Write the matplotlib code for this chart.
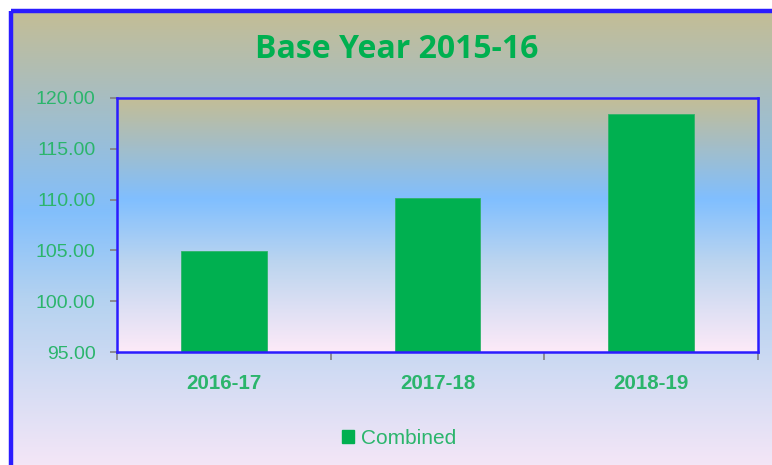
import matplotlib
matplotlib.use("Agg")
import matplotlib.pyplot as plt
import numpy as np
from matplotlib.colors import LinearSegmentedColormap
from matplotlib.patches import Rectangle, Patch

categories = ["2016-17", "2017-18", "2018-19"]
values = [104.9, 110.2, 118.4]
series_name = "Combined"
title = "Base Year 2015-16"
yticks = [95, 100, 105, 110, 115, 120]

GREEN = "#00b050"
TXT = "#2bb56c"
BLUE = "#2b1cff"

fig = plt.figure(figsize=(7.72, 4.65), dpi=100)
fig.patch.set_facecolor("white")

W, H = 772, 465
# outer background with gradient
bg = fig.add_axes([0, 0, 1, 1], zorder=0)
bg.set_xlim(0, W); bg.set_ylim(H, 0); bg.axis("off")
cmap = LinearSegmentedColormap.from_list("g", [(0, "#c4bd95"), (0.42, "#82bffc"), (0.6, "#b4d2f0"), (1.0, "#fde9f8")])
grad = np.linspace(0, 1, 256).reshape(-1, 1)
bg.imshow(grad, cmap=cmap, aspect="auto", extent=[11, W + 20, 490, 11], zorder=0)
bg.add_patch(Rectangle((11, 11), W + 20, 490, fill=False, edgecolor=BLUE, linewidth=3.2, zorder=2))
bg.set_xlim(0, W); bg.set_ylim(H, 0)

ax = fig.add_axes([117 / W, 1 - 352 / H, (758 - 117) / W, (352 - 98) / H], zorder=1)
cmap2 = LinearSegmentedColormap.from_list("p", [(0, "#c4bd95"), (0.4, "#80bfff"), (0.65, "#bcd5ef"), (1.0, "#fdeaf8")])
ax.imshow(grad, cmap=cmap2, aspect="auto", extent=[0, 1, 0, 1], transform=ax.transAxes, zorder=0)

x = np.arange(len(categories))
ax.bar(x, values, width=0.4, color=GREEN, edgecolor="#2fb36a", linewidth=0.6, zorder=2, label=series_name)
ax.set_xlim(-0.5, len(categories) - 0.5)
ax.set_ylim(95, 120)
ax.set_yticks(yticks)
ax.set_yticklabels([f"{v:.2f}" for v in yticks], color=TXT, fontsize=14, family="Liberation Sans")
ax.tick_params(axis="y", length=5, color="#808080", width=1.2, pad=10.5)

ax.set_xticks(np.arange(-0.5, len(categories), 1.0))
ax.set_xticklabels([])
ax.tick_params(axis="x", which="major", length=6, color="#808080", width=1.2)
ax.set_xticks(x, minor=True)
ax.set_xticklabels(categories, minor=True, color=TXT, fontsize=14.8, fontweight="bold", family="Liberation Sans")
ax.tick_params(axis="x", which="minor", length=0, pad=15.5)

for s in ax.spines.values():
    s.set_color(BLUE)
    s.set_linewidth(1.8)

fig.text(397 / W, 1 - 49 / H, title, ha="center", va="center", color=GREEN,
         fontsize=23, fontweight="bold", family="Open Sans")

fig.legend(handles=[Patch(facecolor=GREEN, edgecolor=GREEN, label=series_name)],
           loc="center", bbox_to_anchor=(399 / W, 1 - 438 / H), frameon=False,
           handlelength=0.6, handleheight=0.6, handletextpad=0.3,
           prop={"family": "Liberation Sans", "size": 15}, labelcolor=TXT)

fig.savefig("out.png", dpi=100)
